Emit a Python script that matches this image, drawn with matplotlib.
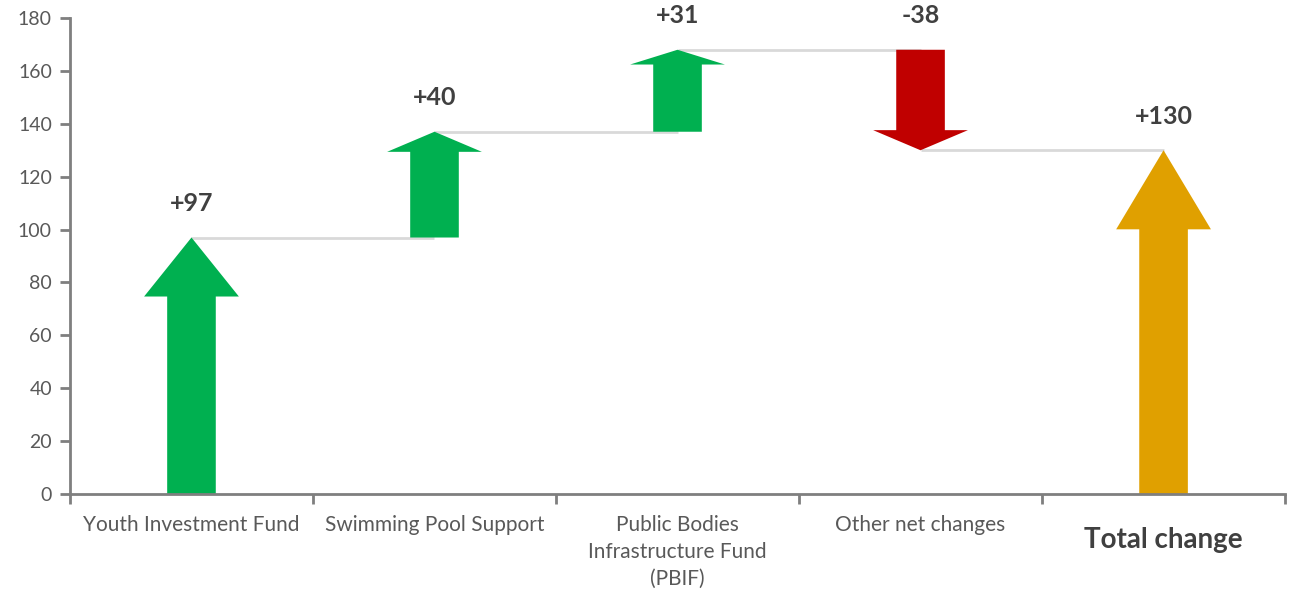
import matplotlib.pyplot as plt
from matplotlib.patches import FancyArrow
from matplotlib.transforms import ScaledTranslation

# data
categories = ["Youth Investment Fund", "Swimming Pool Support",
              "Public Bodies\nInfrastructure Fund\n(PBIF)", "Other net changes",
              "Total change"]
changes = [97, 40, 31, -38, 130]
is_total = [False, False, False, False, True]
labels = ["+97", "+40", "+31", "-38", "+130"]
yticks = [0, 20, 40, 60, 80, 100, 120, 140, 160, 180]

# style
green, red, gold = "#00B050", "#C00000", "#E0A000"
head_frac = [0.23, 0.19, 0.18, 0.20, 0.23]
font = ["Lato", "DejaVu Sans"]
plt.rcParams["font.family"] = font

fig = plt.figure(figsize=(12.91, 5.95), dpi=100)
ax = fig.add_axes([0.0542, 0.1697, 0.9412, 0.80])

# starting points of each arrow (waterfall)
starts = []
level = 0
for c, tot in zip(changes, is_total):
    if tot:
        starts.append(0)
    else:
        starts.append(level)
        level += c

ends = [s + c for s, c in zip(starts, changes)]

for i, (s, c) in enumerate(zip(starts, changes)):
    if is_total[i]:
        col = gold
    else:
        col = green if c > 0 else red
    arr = FancyArrow(i, s, 0, c, width=0.2, head_width=0.39,
                     head_length=abs(c) * head_frac[i],
                     length_includes_head=True, color=col, lw=0)
    ax.add_patch(arr)
    ax.text(i, max(s, ends[i]) + 8.5, labels[i], ha="center", va="bottom",
            fontsize=18, fontweight="bold", color="#404040")

# connector lines
for i in range(len(changes) - 1):
    ax.plot([i, i + 1], [ends[i], ends[i]], color="#d9d9d9", lw=2,
            zorder=0, solid_capstyle="butt")

ax.set_xlim(-0.5, len(categories) - 0.5)
ax.set_ylim(0, 180)
ax.set_yticks(yticks)
ax.set_xticks(range(len(categories)))
ax.set_xticklabels(categories, fontsize=15, color="#595959", linespacing=1.45)
ax.set_xticks([x - 0.5 for x in range(len(categories) + 1)], minor=True)
ax.tick_params(axis="x", which="major", length=0, pad=15)
ax.tick_params(axis="x", which="minor", length=7, width=2, color="#7f7f7f")
ax.tick_params(axis="y", length=7, width=2, color="#7f7f7f", labelsize=14,
               labelcolor="#595959", pad=6)
tl = ax.get_xticklabels()[-1]
tl.set_fontsize(20)
tl.set_fontweight("bold")
tl.set_color("#404040")
tl.set_transform(tl.get_transform() + ScaledTranslation(0, -9 / 72, fig.dpi_scale_trans))

for side in ["top", "right"]:
    ax.spines[side].set_visible(False)
for side in ["left", "bottom"]:
    ax.spines[side].set_color("#7f7f7f")
    ax.spines[side].set_linewidth(2)

fig.savefig("out.png", dpi=100)
